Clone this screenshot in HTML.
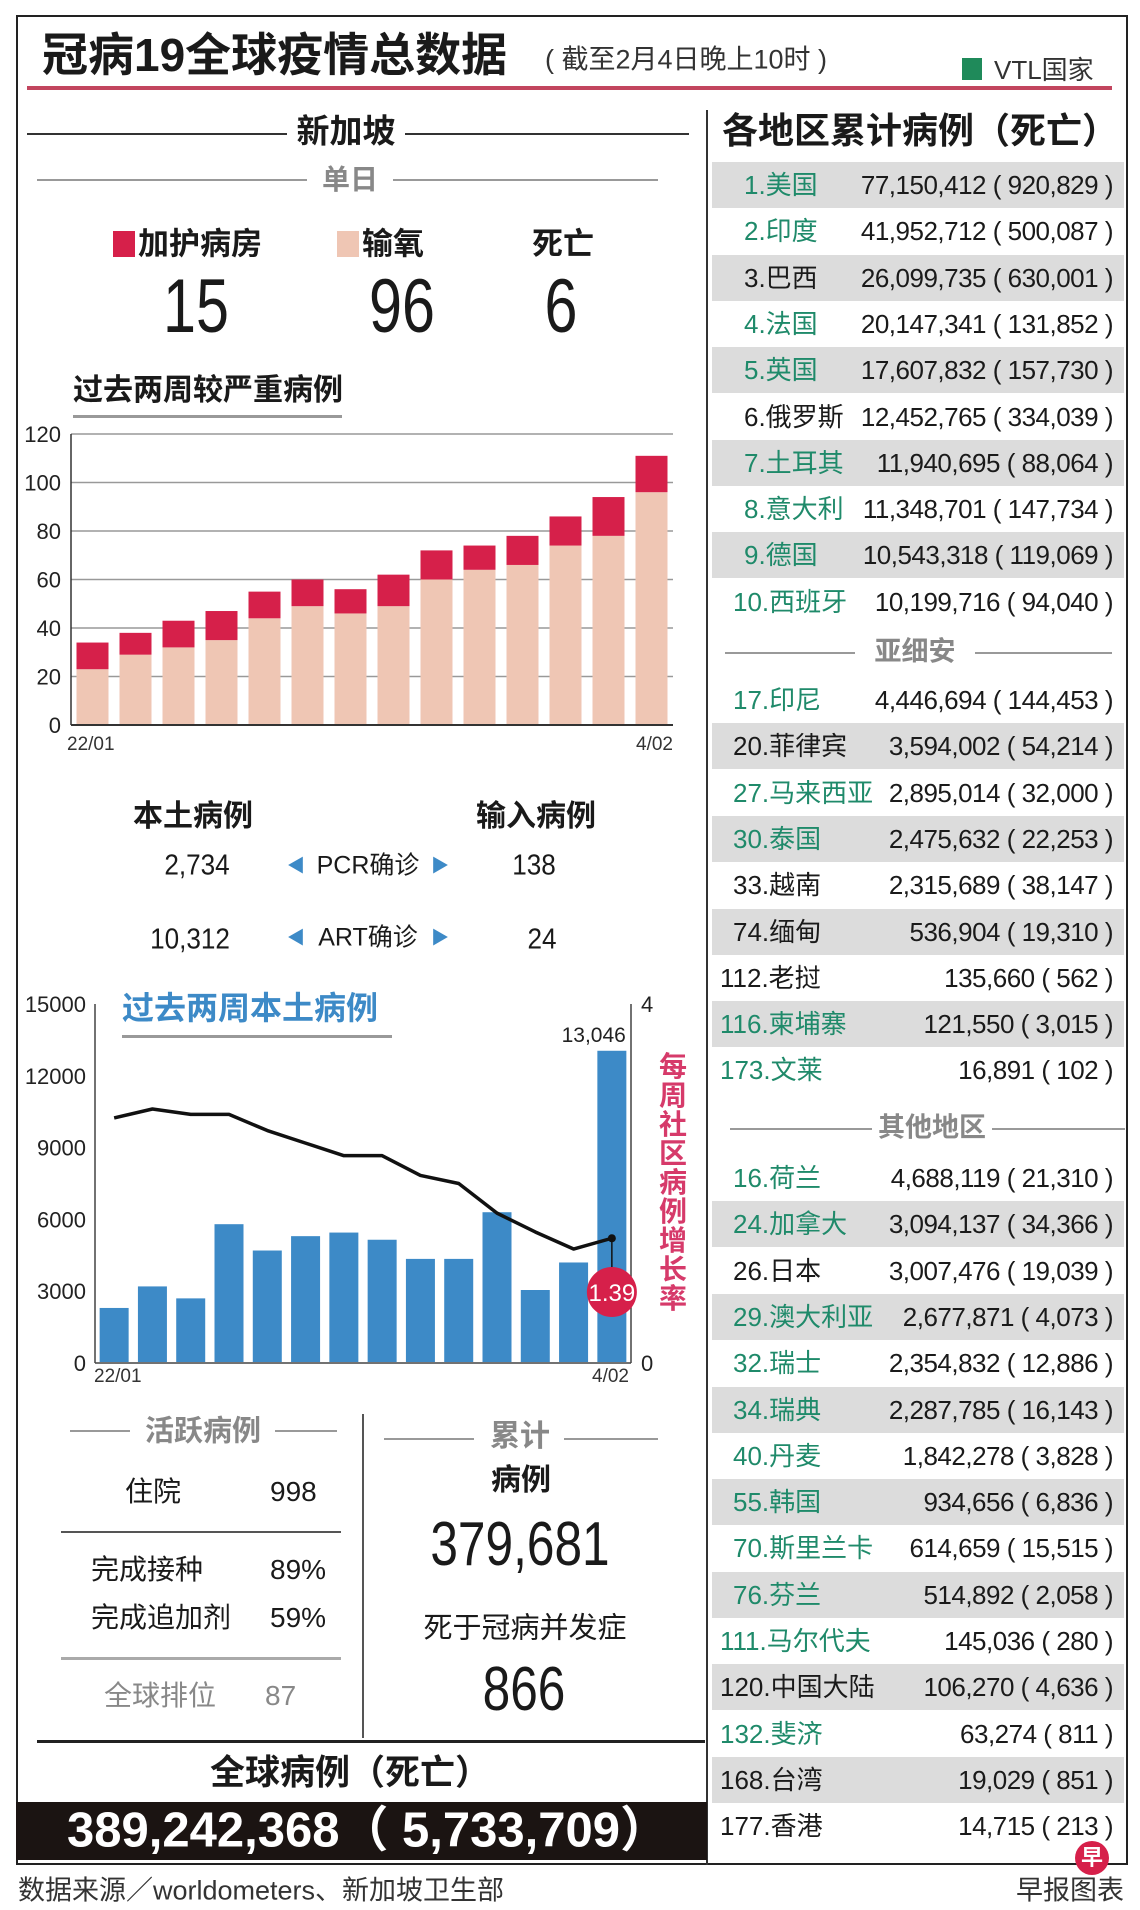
<!DOCTYPE html>
<html><head><meta charset="utf-8">
<style>
*{margin:0;padding:0;box-sizing:border-box}
body{width:1140px;height:1910px;background:#fff;position:relative;overflow:hidden;font-family:"Liberation Sans","Noto Sans CJK SC",sans-serif;color:#1a1a1a}
.a{position:absolute;white-space:nowrap;line-height:1}
.c{transform:translate(-50%,-50%)}
.l{transform:translate(0,-50%)}
.r{transform:translate(-100%,-50%)}
.hl{position:absolute;height:2px;background:#333}
.g{color:#888}
.b{font-weight:bold}
.grn{color:#1f8a6a}
</style></head><body>
<div class="a" style="left:16px;top:15px;width:1112px;height:1850px;border:2px solid #222"></div>
<div class="a l b" style="left:42px;top:55px;font-size:46px">冠病19全球疫情总数据</div>
<div class="a l" style="left:545px;top:60px;font-size:27px;color:#333">( 截至2月4日晚上10时 )</div>
<div class="a" style="left:962px;top:58px;width:20px;height:22px;background:#1f8a5a"></div>
<div class="a l" style="left:994px;top:70px;font-size:26px;color:#333">VTL国家</div>
<div class="a" style="left:27px;top:86px;width:1085px;height:4px;background:#c2455e"></div>
<div class="a" style="left:706px;top:110px;width:2px;height:1755px;background:#333"></div>

<!-- Singapore -->
<div class="hl" style="left:27px;top:133px;width:260px;height:1.5px"></div>
<div class="hl" style="left:405px;top:133px;width:284px;height:1.5px"></div>
<div class="a c b" style="left:346px;top:131px;font-size:33px">新加坡</div>
<div class="hl" style="left:37px;top:179px;width:270px;background:#999"></div>
<div class="hl" style="left:393px;top:179px;width:265px;background:#999"></div>
<div class="a c b g" style="left:350px;top:180px;font-size:28px">单日</div>
<div class="a" style="left:113px;top:231px;width:22px;height:26px;background:#d6204a"></div>
<div class="a l b" style="left:138px;top:244px;font-size:31px">加护病房</div>
<div class="a" style="left:337px;top:231px;width:22px;height:26px;background:#efc6b4"></div>
<div class="a l b" style="left:362px;top:244px;font-size:31px">输氧</div>
<div class="a c b" style="left:563px;top:244px;font-size:31px">死亡</div>
<div class="a c" style="left:196px;top:307px;font-size:76px;transform:translate(-50%,-50%) scaleX(0.78)">15</div>
<div class="a c" style="left:402px;top:307px;font-size:76px;transform:translate(-50%,-50%) scaleX(0.78)">96</div>
<div class="a c" style="left:561px;top:307px;font-size:76px;transform:translate(-50%,-50%) scaleX(0.78)">6</div>

<div class="a l b" style="left:73px;top:391px;font-size:30px">过去两周较严重病例</div>
<div class="a" style="left:73px;top:415px;width:269px;height:3px;background:#999"></div>
<svg class="a" id="c1" style="left:0;top:0" width="700" height="760"></svg>

<div class="a c b" style="left:193px;top:817px;font-size:30px">本土病例</div>
<div class="a c b" style="left:536px;top:817px;font-size:30px">输入病例</div>
<div class="a c" style="left:197px;top:866px;font-size:29px;transform:translate(-50%,-50%) scaleX(0.9)">2,734</div>
<div class="a c" style="left:296px;top:866px;font-size:18px;color:#3d8ac7">◀</div>
<div class="a c" style="left:368px;top:866px;font-size:25px">PCR确诊</div>
<div class="a c" style="left:440px;top:866px;font-size:18px;color:#3d8ac7">▶</div>
<div class="a c" style="left:534px;top:866px;font-size:29px;transform:translate(-50%,-50%) scaleX(0.9)">138</div>
<div class="a c" style="left:190px;top:940px;font-size:29px;transform:translate(-50%,-50%) scaleX(0.9)">10,312</div>
<div class="a c" style="left:296px;top:938px;font-size:18px;color:#3d8ac7">◀</div>
<div class="a c" style="left:368px;top:938px;font-size:25px">ART确诊</div>
<div class="a c" style="left:440px;top:938px;font-size:18px;color:#3d8ac7">▶</div>
<div class="a c" style="left:542px;top:940px;font-size:29px;transform:translate(-50%,-50%) scaleX(0.9)">24</div>

<div class="a l b" style="left:122px;top:1008px;font-size:32px;color:#3d8ac7">过去两周本土病例</div>
<div class="a" style="left:122px;top:1035px;width:270px;height:3px;background:#999"></div>
<svg class="a" id="c2" style="left:0;top:0" width="700" height="1400"></svg>
<div class="a b" style="left:658px;top:1052px;width:30px;font-size:28px;line-height:29px;color:#d63a6a;white-space:normal;text-align:center">每周社区病例增长率</div>

<!-- bottom left -->
<div class="hl" style="left:70px;top:1430px;width:60px;background:#999"></div>
<div class="hl" style="left:275px;top:1430px;width:62px;background:#999"></div>
<div class="a c b g" style="left:203px;top:1432px;font-size:29px">活跃病例</div>
<div class="a l" style="left:125px;top:1492px;font-size:28px">住院</div>
<div class="a l" style="left:270px;top:1492px;font-size:28px">998</div>
<div class="a" style="left:61px;top:1531px;width:280px;height:2px;background:#555"></div>
<div class="a l" style="left:91px;top:1570px;font-size:28px">完成接种</div>
<div class="a l" style="left:270px;top:1570px;font-size:28px">89%</div>
<div class="a l" style="left:91px;top:1618px;font-size:28px">完成追加剂</div>
<div class="a l" style="left:270px;top:1618px;font-size:28px">59%</div>
<div class="a" style="left:61px;top:1657px;width:280px;height:3px;background:#aaa"></div>
<div class="a l g" style="left:104px;top:1696px;font-size:28px">全球排位</div>
<div class="a l g" style="left:265px;top:1696px;font-size:28px">87</div>
<div class="a" style="left:362px;top:1414px;width:2px;height:324px;background:#555"></div>
<div class="hl" style="left:384px;top:1438px;width:90px;background:#999"></div>
<div class="hl" style="left:564px;top:1438px;width:94px;background:#999"></div>
<div class="a c b g" style="left:520px;top:1437px;font-size:30px">累计</div>
<div class="a c b" style="left:521px;top:1481px;font-size:30px">病例</div>
<div class="a c" style="left:520px;top:1545px;font-size:62px;transform:translate(-50%,-50%) scaleX(0.8)">379,681</div>
<div class="a c" style="left:525px;top:1629px;font-size:29px">死于冠病并发症</div>
<div class="a c" style="left:524px;top:1690px;font-size:62px;transform:translate(-50%,-50%) scaleX(0.8)">866</div>
<div class="a" style="left:37px;top:1740px;width:668px;height:3px;background:#222"></div>
<div class="a c b" style="left:350px;top:1773px;font-size:35px">全球病例（死亡）</div>
<div class="a" style="left:16px;top:1802px;width:691px;height:58px;background:#1b1412"></div>
<div class="a c b" style="left:368px;top:1831px;font-size:49px;color:#fff">389,242,368（ 5,733,709）</div>
<div class="a l" style="left:18px;top:1891px;font-size:27px;color:#333">数据来源／worldometers、新加坡卫生部</div>
<div class="a c b" style="left:1092px;top:1858px;width:34px;height:34px;border-radius:50%;background:#d6204a;color:#fff;font-size:22px;line-height:34px;text-align:center;transform:translate(-50%,-50%)">早</div>
<div class="a r" style="left:1124px;top:1891px;font-size:27px;color:#333;transform:translate(-100%,-50%)">早报图表</div>

<!-- right table -->
<div class="a l b" style="left:722px;top:131px;font-size:36px">各地区累计病例（死亡）</div>
<div id="tbl"></div>

<script>
const NS='http://www.w3.org/2000/svg';
function mk(svg,tag,attrs){const e=document.createElementNS(NS,tag);for(const k in attrs)e.setAttribute(k,attrs[k]);svg.appendChild(e);return e;}

// ---- chart 1 data ----
const sevDays=['22/01','','','','','','','','','','','','','4/02'];
const oxygenVals=[23,29,32,35,44,49,46,49,60,64,66,74,78,96];
const icuVals=[11,9,11,12,11,11,10,13,12,10,12,12,16,15];
const sevTicks=[0,20,40,60,80,100,120];
// ---- chart 2 data ----
const localDays=['22/01','','','','','','','','','','','','','4/02'];
const localCases=[2300,3200,2700,5800,4700,5300,5450,5150,4350,4350,6300,3050,4200,13046];
const growthRate=[2.73,2.83,2.77,2.77,2.59,2.45,2.31,2.31,2.09,2.0,1.67,1.46,1.27,1.39];
const localTicks=[0,3000,6000,9000,12000,15000];
const rateTicks=[0,4];

// chart1
(function(){
const s=document.getElementById('c1');
const X0=71,X1=673,Y0=725,Y1=434,max=120;
const y=v=>Y0-(v/max)*(Y0-Y1);
const slot=(X1-X0)/oxygenVals.length;
const xc=i=>X0+slot*(i+0.5);
sevTicks.forEach(t=>{
  const ln=mk(s,'line',{x1:X0,x2:X1,y1:y(t),y2:y(t),stroke:t===0?'#333':'#999','stroke-width':t===0?2:1.5});
  
  
  const tx=mk(s,'text',{x:61,y:y(t)+8,'text-anchor':'end','font-size':22,fill:'#222','font-family':'Liberation Sans'});
  tx.textContent=t;
  
  
});
const ax=mk(s,'line',{x1:X0,x2:X0,y1:Y1,y2:Y0,stroke:'#333','stroke-width':1.5});


oxygenVals.forEach((v,i)=>{
  const w=32;
  const r1=mk(s,'rect',{x:xc(i)-w/2,y:y(v),width:w,height:Y0-y(v)-1,fill:'#efc6b4'});
  
  
  const top=v+icuVals[i];
  const r2=mk(s,'rect',{x:xc(i)-w/2,y:y(top),width:w,height:y(v)-y(top),fill:'#d6204a'});
  
  
});
sevDays.forEach((d,i)=>{ if(!d)return;
  const tx=mk(s,'text',{x:i===0?67:X1,y:750,'text-anchor':i===0?'start':'end','font-size':19,fill:'#333','font-family':'Liberation Sans'});
  tx.textContent=d;
  
  
});
})();

// chart2
(function(){
const s=document.getElementById('c2');
const X0=95,X1=631,Y0=1363,Y1=1004;
const y=v=>Y0-(v/15000)*(Y0-Y1);
const yr=v=>Y0-(v/4)*(Y0-Y1);
const slot=(X1-X0)/localCases.length;
const xc=i=>X0+slot*(i+0.5);
[[X0,Y1,X0,Y0],[X1,Y1,X1,Y0],[X0,Y0,X1,Y0]].forEach(p=>{
  const ln=mk(s,'line',{x1:p[0],y1:p[1],x2:p[2],y2:p[3],stroke:'#444','stroke-width':1.5});
  
  
});
localTicks.forEach(t=>{
  const tx=mk(s,'text',{x:86,y:y(t)+8,'text-anchor':'end','font-size':22,fill:'#222','font-family':'Liberation Sans'});
  tx.textContent=t;
  
  
});
rateTicks.forEach(t=>{
  const tx=mk(s,'text',{x:641,y:yr(t)+8,'font-size':22,fill:'#222','font-family':'Liberation Sans'});
  tx.textContent=t;
  
  
});
localCases.forEach((v,i)=>{
  const w=29;
  const r=mk(s,'rect',{x:xc(i)-w/2,y:y(v),width:w,height:Y0-y(v)-1,fill:'#3d8ac7'});
  
  
});
const last=localCases.length-1;
const lab=mk(s,'text',{x:xc(last)+14,y:y(localCases[last])-9,'text-anchor':'end','font-size':21,fill:'#222','font-family':'Liberation Sans'});
lab.textContent=localCases[last].toLocaleString('en-US');


const pts=growthRate.map((v,i)=>xc(i)+','+yr(v)).join(' ');
const pl=mk(s,'polyline',{points:pts,fill:'none',stroke:'#111','stroke-width':3.5,'stroke-linejoin':'round'});


const gx=xc(last),gy=yr(growthRate[last]);
const dot=mk(s,'circle',{cx:gx,cy:gy,r:4,fill:'#111'});


const cl=mk(s,'line',{x1:gx,x2:gx,y1:gy,y2:1292,stroke:'#111','stroke-width':1.5});


const cc=mk(s,'circle',{cx:gx,cy:1292,r:25,fill:'#d6204a'});


const ct=mk(s,'text',{x:gx,y:1301,'text-anchor':'middle','font-size':24,fill:'#fff','font-family':'Liberation Sans'});
ct.textContent=growthRate[last].toFixed(2);


localDays.forEach((d,i)=>{ if(!d)return;
  const tx=mk(s,'text',{x:i===0?94:X1-2,y:1382,'text-anchor':i===0?'start':'end','font-size':19,fill:'#333','font-family':'Liberation Sans'});
  tx.textContent=d;
  
  
});
})();

// table
const top10=[['1.美国','77,150,412','920,829',1,1],['2.印度','41,952,712','500,087',1,0],['3.巴西','26,099,735','630,001',0,1],['4.法国','20,147,341','131,852',1,0],['5.英国','17,607,832','157,730',1,1],['6.俄罗斯','12,452,765','334,039',0,0],['7.土耳其','11,940,695','88,064',1,1],['8.意大利','11,348,701','147,734',1,0],['9.德国','10,543,318','119,069',1,1],['10.西班牙','10,199,716','94,040',1,0]];
const asean=[['17.印尼','4,446,694','144,453',1,0],['20.菲律宾','3,594,002','54,214',0,1],['27.马来西亚','2,895,014','32,000',1,0],['30.泰国','2,475,632','22,253',1,1],['33.越南','2,315,689','38,147',0,0],['74.缅甸','536,904','19,310',0,1],['112.老挝','135,660','562',0,0],['116.柬埔寨','121,550','3,015',1,1],['173.文莱','16,891','102',1,0]];
const others=[['16.荷兰','4,688,119','21,310',1,0],['24.加拿大','3,094,137','34,366',1,1],['26.日本','3,007,476','19,039',0,0],['29.澳大利亚','2,677,871','4,073',1,1],['32.瑞士','2,354,832','12,886',1,0],['34.瑞典','2,287,785','16,143',1,1],['40.丹麦','1,842,278','3,828',1,0],['55.韩国','934,656','6,836',1,1],['70.斯里兰卡','614,659','15,515',1,0],['76.芬兰','514,892','2,058',1,1],['111.马尔代夫','145,036','280',1,0],['120.中国大陆','106,270','4,636',0,1],['132.斐济','63,274','811',1,0],['168.台湾','19,029','851',0,1],['177.香港','14,715','213',0,0]];
const tbl=document.getElementById('tbl');
function rows(list,startY){
  list.forEach((r,i)=>{
    const cy=startY+i*46.3;
    const row=document.createElement('div');
    
    
    row.style.cssText='position:absolute;left:712px;top:'+(cy-23)+'px;width:412px;height:46px;background:'+(r[4]?'#dcdcdc':'transparent');
    tbl.appendChild(row);
    const rk=r[0].split('.')[0].length;
    const nm=document.createElement('div');
    
    
    nm.className='a l';
    nm.style.cssText='left:'+(rk===1?744:rk===2?733:720)+'px;top:'+cy+'px;font-size:26px;color:'+(r[3]?'#1f8a6a':'#1a1a1a');
    nm.textContent=r[0];
    tbl.appendChild(nm);
    const v=document.createElement('div');
    
    
    v.className='a r';
    v.style.cssText='left:1113px;top:'+cy+'px;font-size:26px;letter-spacing:-0.5px;color:#1a1a1a';
    v.textContent=r[1]+' ( '+r[2]+' )';
    tbl.appendChild(v);
  });
}
rows(top10,185);
rows(asean,700);
rows(others,1178);
function sect(name,label,cy,x1,x2,cx){
  const d=document.createElement('div');
  
  
  d.className='a c b g';
  d.style.cssText='left:'+cx+'px;top:'+cy+'px;font-size:27px';
  d.textContent=label;
  tbl.appendChild(d);
  const l=document.createElement('div');
  
  
  l.style.cssText='position:absolute;left:'+x1+'px;top:'+cy+'px;width:'+(x2-x1)+'px;height:2px;background:linear-gradient(90deg,#999 0,#999 '+(cx-x1-60)+'px,transparent '+(cx-x1-60)+'px,transparent '+(cx-x1+60)+'px,#999 '+(cx-x1+60)+'px)';
  tbl.appendChild(l);
}
sect('asean-heading','亚细安',652,725,1112,915);
sect('other-regions-heading','其他地区',1128,730,1125,932);
</script>
</body></html>
